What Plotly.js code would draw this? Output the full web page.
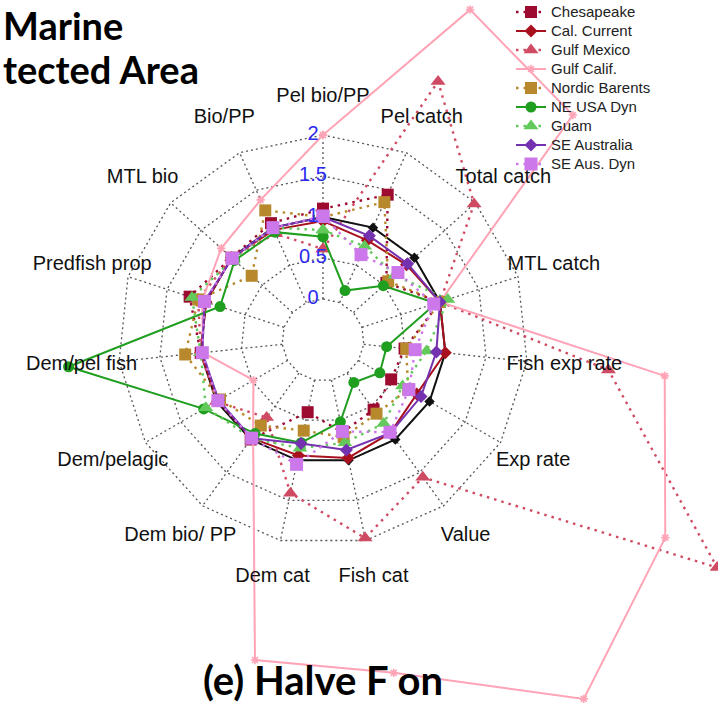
<!DOCTYPE html>
<html>
<head>
<meta charset="utf-8">
<script src="https://cdn.plot.ly/plotly-3.0.1.min.js"></script>
<style>
html,body{margin:0;padding:0;overflow:hidden;background:#fff;width:718px;height:703px;}
#plot{position:absolute;}
</style>
</head>
<body>
<div id="plot"></div>
<script>
// ---- data ----
const categories = ["Pel bio/PP","Pel catch","Total catch","MTL catch","Fish exp rate","Exp rate","Value","Fish cat","Dem cat","Dem bio/ PP","Dem/pelagic","Dem/pel fish","Predfish prop","MTL bio","Bio/PP"];
const radialTicks = [0, 0.5, 1, 1.5, 2];
const radialTickLabels = ["0", "0.5", "1", "1.5", "2"];
const seriesNames = ["Chesapeake","Cal. Current","Gulf Mexico","Gulf Calif.","Nordic Barents","NE USA Dyn","Guam","SE Australia","SE Aus. Dyn"];
const base        = [1,1,1,1,1,1,1,1,1,1,1,1,1,1,1];
const chesapeake  = [1.10,1.44,0.54,1.00,0.50,0.46,0.55,0.65,0.40,1.00,0.97,1.00,1.21,1.00,1.06];
const calCurrent  = [0.95,0.83,0.87,1.00,1.00,0.82,0.90,0.97,0.94,0.98,0.98,1.00,1.00,1.00,0.97];
const gulfMexico  = [0.61,2.95,1.98,1.00,3.00,5.05,1.57,1.97,1.41,0.67,1.00,1.00,1.10,1.00,0.92];
const gulfCalif   = [2.00,3.91,3.60,1.00,3.69,4.32,4.91,3.65,3.49,0.95,0.48,0.97,1.05,1.17,1.37];
const nordicBarents=[1.00,1.34,0.57,1.00,0.52,0.70,0.61,0.71,0.63,0.79,0.95,1.19,1.10,0.67,1.23];
const neUsaDyn    = [0.76,0.16,0.49,0.95,0.28,0.30,0.14,0.52,0.78,0.91,1.18,2.62,0.82,0.95,0.94];
const guam        = [0.84,0.75,0.68,1.10,0.77,0.62,0.76,0.78,0.85,0.98,1.15,1.00,1.18,0.97,1.00];
const seAustralia = [1.00,0.89,0.89,1.00,0.89,0.88,0.90,0.87,0.79,0.98,0.97,0.98,1.02,0.99,1.00];
const seAusDyn    = [1.01,0.64,0.73,0.92,0.63,0.71,0.89,0.64,1.05,0.98,0.98,0.98,1.02,0.99,1.00];
const labelRadius = 2.46;

// ---- geometry (pixels) ----
const UNIT = 82, R = 558, CX = 323, CY = 340, OFF = 10;
const W = 2*R + OFF, H = 2*R;
const LEFT = CX - OFF - R, TOP = CY - R;
const rMax = R/UNIT - 0.5;
const el = document.getElementById('plot');
el.style.left = LEFT + 'px'; el.style.top = TOP + 'px';
const px = x => (x - LEFT)/W;
const py = y => 1 - (y - TOP)/H;

const closeArr = a => a.concat([a[0]]);
const thetaC = closeArr(categories);

const traces = [];
// grid rings
radialTicks.forEach(t => {
  traces.push({type:'scatterpolar', mode:'lines', r: thetaC.map(()=>t), theta: thetaC,
    line:{color:'#555', width:1.3, dash:'2px,3px'}, showlegend:false, hoverinfo:'skip'});
});
// spokes
const spR = [], spT = [];
categories.forEach(c => { spR.push(radialTicks[0], radialTicks[radialTicks.length-1], null); spT.push(c, c, null); });
traces.push({type:'scatterpolar', mode:'lines', r: spR, theta: spT, connectgaps:false,
  line:{color:'#555', width:1.3, dash:'2px,3px'}, showlegend:false, hoverinfo:'skip'});

function series(name, vals, color, dash, symbol, size, width, legend){
  traces.push({type:'scatterpolar', mode:'lines+markers',
    name: legend ? '<span style="font-size:15px">' + name + '</span>' : name,
    r: closeArr(vals), theta: thetaC,
    line:{color:color, width:width, dash:dash},
    marker:{color:color, symbol:symbol, size:size, line:{width: symbol.indexOf('open')>=0?1.6:0, color:color}},
    showlegend: legend, cliponaxis:false});
}
const DOT = '2.5px,5px';
series('Base', base, '#111111', 'solid', 'diamond', 8, 2, false);
series(seriesNames[0], chesapeake, '#9e0b30', DOT, 'square', 12, 2.4, true);
series(seriesNames[1], calCurrent, '#a8101e', 'solid', 'diamond', 10, 2, true);
series(seriesNames[2], gulfMexico, '#cf4b63', DOT, 'triangle-up', 13, 2.4, true);
series(seriesNames[3], gulfCalif, '#ffa3b6', 'solid', 'asterisk-open', 7, 2, true);
series(seriesNames[4], nordicBarents, '#b8892c', DOT, 'square', 12, 2.4, true);
series(seriesNames[5], neUsaDyn, '#1f9e1f', 'solid', 'circle', 11, 2, true);
series(seriesNames[6], guam, '#62c95a', DOT, 'triangle-up', 13, 2.4, true);
series(seriesNames[7], seAustralia, '#7431b0', 'solid', 'diamond', 10, 2, true);
series(seriesNames[8], seAusDyn, '#cc78ea', DOT, 'square', 13, 2.4, true);

// category labels
traces.push({type:'scatterpolar', mode:'text', r: categories.map(()=>labelRadius), theta: categories,
  text: categories, textposition:'middle center',
  textfont:{family:'Liberation Sans, Arial, sans-serif', size:20, color:'#111'},
  showlegend:false, hoverinfo:'skip', cliponaxis:false});
// radial tick labels (in polar2, same scale, shifted left)
traces.push({type:'scatterpolar', subplot:'polar2', mode:'text', r: radialTicks, theta: radialTicks.map(()=>categories[0]),
  text: radialTickLabels, textposition:'middle center',
  textfont:{family:'Liberation Sans, Arial, sans-serif', size:20, color:'#2b2bf0'},
  showlegend:false, hoverinfo:'skip', cliponaxis:false});

const angAx = {type:'category', categoryorder:'array', categoryarray:categories, rotation:90, direction:'clockwise', visible:false};
const radAx = {range:[-0.5, rMax], visible:false};
const titleFont = {family:'Lato, Open Sans, sans-serif', size:38, color:'#000'};

const layout = {
  width: W, height: H, margin:{l:0,r:0,t:0,b:0}, autosize:false,
  paper_bgcolor:'#fff',
  polar:{domain:{x:[OFF/W,1], y:[0,1]}, bgcolor:'rgba(0,0,0,0)', radialaxis:radAx, angularaxis:angAx},
  polar2:{domain:{x:[0,2*R/W], y:[0,1]}, bgcolor:'rgba(0,0,0,0)', radialaxis:radAx, angularaxis:angAx},
  showlegend:true,
  legend:{x:px(511), y:py(-2.5), xanchor:'left', yanchor:'top', bgcolor:'rgba(0,0,0,0)',
    font:{family:'Liberation Sans, Arial, sans-serif', size:12, color:'#222'}, itemwidth:30, tracegroupgap:0},
  annotations:[
    {text:'<b>Marine</b>', xref:'paper', yref:'paper', x:px(1), y:py(0.5), xanchor:'left', yanchor:'top', showarrow:false, font:titleFont},
    {text:'<b>tected Area</b>', xref:'paper', yref:'paper', x:px(1), y:py(44), xanchor:'left', yanchor:'top', showarrow:false, font:titleFont},
    {text:'<b>(e) Halve F on</b>', xref:'paper', yref:'paper', x:px(201), y:py(654), xanchor:'left', yanchor:'top', showarrow:false,
      font:{family:'Lato, Open Sans, sans-serif', size:40, color:'#000'}}
  ]
};
Plotly.newPlot(el, traces, layout, {displayModeBar:false, staticPlot:true});
</script>
</body>
</html>
